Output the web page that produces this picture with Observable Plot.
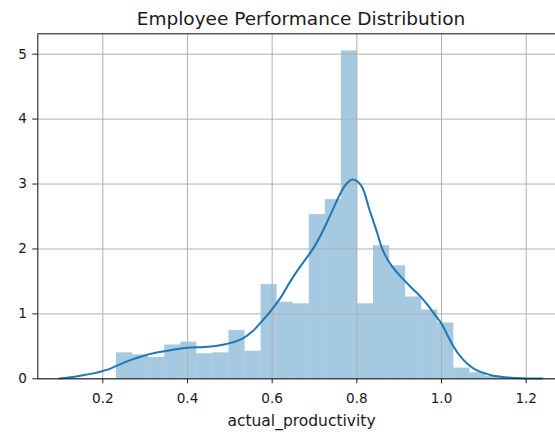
<!DOCTYPE html>
<html>
<head>
<meta charset="utf-8">
<script src="https://cdn.jsdelivr.net/npm/d3@7"></script>
<script src="https://cdn.jsdelivr.net/npm/@observablehq/plot@0.6"></script>
<style>
  body { margin: 0; background: #fff; font-family: "DejaVu Sans", sans-serif; }
  #wrap { width: 555px; height: 432px; overflow: hidden; position: relative; }
  #title { width: 555px; height: 30px; box-sizing: border-box; padding-left: 47px; padding-top: 10px;
           text-align: center; font-size: 18.5px; line-height: 18px; color: #1a1a1a; white-space: nowrap; }
  #chart { width: 565px; height: 402px; }
  #chart svg { max-width: none !important; width: 565px !important; height: 402px !important; display: block; }
</style>
</head>
<body>
<div id="wrap">
  <div id="title"></div>
  <div id="chart"></div>
</div>
<script>
const titleText = "Employee Performance Distribution";
const xLabel = "actual_productivity";

// histogram bin edges (left edges + final right edge)
const binEdges = [0.2324, 0.2703, 0.3083, 0.3462, 0.3842, 0.4221, 0.4600, 0.4980, 0.5359, 0.5739,
                  0.6118, 0.6497, 0.6877, 0.7256, 0.7636, 0.8015, 0.8394, 0.8774, 0.9153, 0.9533,
                  0.9912, 1.0291, 1.0671, 1.1050, 1.1430];
// density per bin
const binDensity = [0.40, 0.37, 0.33, 0.52, 0.565, 0.385, 0.40, 0.745, 0.425, 1.45,
                    1.18, 1.155, 2.53, 2.76, 5.05, 1.155, 2.05, 1.74, 1.26, 1.06,
                    0.86, 0.165, 0.095, 0.04];

// KDE curve
const kdeX = [0.098, 0.12, 0.15, 0.175, 0.2, 0.215, 0.232, 0.25, 0.27, 0.29, 0.31, 0.33, 0.36, 0.40,
              0.44, 0.47, 0.50, 0.53, 0.555, 0.575, 0.596, 0.62, 0.64, 0.66, 0.68, 0.70, 0.72, 0.74,
              0.76, 0.775, 0.79, 0.81, 0.83, 0.848, 0.86, 0.879, 0.90, 0.928, 0.95, 0.968, 0.985,
              1.0, 1.015, 1.029, 1.045, 1.061, 1.08, 1.10, 1.12, 1.15, 1.19, 1.238];
const kdeY = [0.005, 0.02, 0.05, 0.08, 0.12, 0.15, 0.20, 0.25, 0.30, 0.34, 0.38, 0.41, 0.44, 0.48,
              0.49, 0.51, 0.55, 0.62, 0.74, 0.88, 1.04, 1.25, 1.47, 1.67, 1.85, 2.04, 2.28, 2.56,
              2.84, 3.00, 3.07, 2.98, 2.60, 2.25, 2.00, 1.77, 1.60, 1.41, 1.27, 1.13, 0.98,
              0.85, 0.66, 0.49, 0.34, 0.23, 0.14, 0.09, 0.05, 0.025, 0.01, 0.003];

const xTicks = [0.2, 0.4, 0.6, 0.8, 1.0, 1.2];
const yTicks = [0, 1, 2, 3, 4, 5];

const bins = binDensity.map((d, i) => ({x1: binEdges[i], x2: binEdges[i + 1], density: d}));
const kde = kdeX.map((x, i) => ({x, y: kdeY[i]}));

document.getElementById("title").textContent = titleText;

const chart = Plot.plot({
  width: 565,
  height: 402,
  marginLeft: 37.3,
  marginRight: 0.3,
  marginTop: 3.3,
  marginBottom: 53.7,
  x: {domain: [0.04648, 1.2921]},
  y: {domain: [0, 5.314]},
  style: {fontFamily: "DejaVu Sans", fontSize: "13.6px", color: "#1a1a1a", background: "white"},
  marks: [
    Plot.rectY(bins, {x1: "x1", x2: "x2", y: "density", fill: "#1f77b4", fillOpacity: 0.4}),
    Plot.gridX(xTicks, {stroke: "#b0b0b0", strokeOpacity: 1, strokeWidth: 1}),
    Plot.gridY(yTicks, {stroke: "#b0b0b0", strokeOpacity: 1, strokeWidth: 1}),
    Plot.line(kde, {x: "x", y: "y", stroke: "#1f77b4", strokeWidth: 2, curve: "catmull-rom"}),
    Plot.frame({stroke: "#222", strokeWidth: 1.1}),
    Plot.axisX(xTicks, {tickFormat: d3.format(".1f"), tickSize: 5, tickPadding: 9.5, label: null, stroke: "#222"}),
    Plot.axisY(yTicks, {tickFormat: d3.format("d"), tickSize: 5, tickPadding: 6, label: null, stroke: "#222"}),
    Plot.text([xLabel], {frameAnchor: "bottom", dy: 47, fontSize: 15.5, fill: "#1a1a1a"})
  ]
});
document.getElementById("chart").appendChild(chart);
</script>
</body>
</html>
